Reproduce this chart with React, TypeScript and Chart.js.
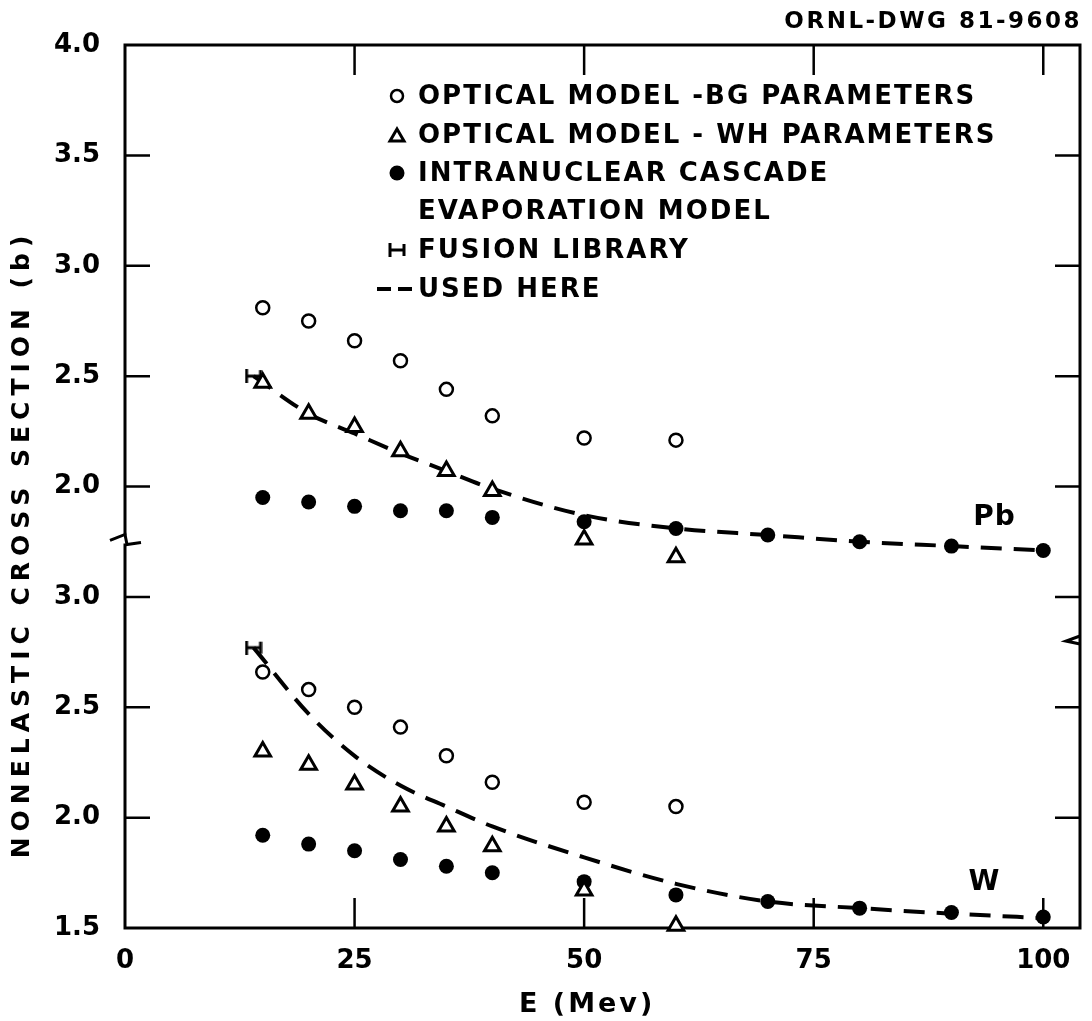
import React, { useEffect, useRef } from 'react';
import { Chart, registerables } from 'chart.js';

Chart.register(...registerables);

// ---------- data ----------
const X_TICKS = [0, 25, 50, 75, 100];
// internal y positions of ticks (W part: 1.5–3.0, Pb part shifted by PB_OFFSET)
const Y_TICKS = [1.5, 2.0, 2.5, 3.0, 3.5, 4.0, 4.5, 5.0, 5.5];
const PB_OFFSET = 1.5;
const W_TOP = 3.0;

const E_MODEL = [15, 20, 25, 30, 35, 40, 50, 60];
const E_CASCADE = [15, 20, 25, 30, 35, 40, 50, 60, 70, 80, 90, 100];
const E_FUSION = [14];
const E_USED = [14, 20, 25, 30, 35, 40, 50, 60, 70, 80, 90, 100];

const PB_BG = [2.81, 2.75, 2.66, 2.57, 2.44, 2.32, 2.22, 2.21];
const PB_WH = [2.47, 2.33, 2.27, 2.16, 2.07, 1.98, 1.76, 1.68];
const PB_CASCADE = [1.95, 1.93, 1.91, 1.89, 1.89, 1.86, 1.84, 1.81, 1.78, 1.75, 1.73, 1.71];
const PB_FUSION = [2.5];
const PB_USED = [2.5, 2.33, 2.24, 2.15, 2.07, 1.99, 1.87, 1.81, 1.78, 1.75, 1.73, 1.71];

const W_BG = [2.66, 2.58, 2.5, 2.41, 2.28, 2.16, 2.07, 2.05];
const W_WH = [2.3, 2.24, 2.15, 2.05, 1.96, 1.87, 1.67, 1.51];
const W_CASCADE = [1.92, 1.88, 1.85, 1.81, 1.78, 1.75, 1.71, 1.65, 1.62, 1.59, 1.57, 1.55];
const W_FUSION = [2.77];
const W_USED = [2.77, 2.47, 2.28, 2.145, 2.05, 1.96, 1.82, 1.7, 1.62, 1.59, 1.565, 1.545];

const LEGEND_LABELS = [
  'OPTICAL MODEL -BG PARAMETERS',
  'OPTICAL MODEL - WH PARAMETERS',
  'INTRANUCLEAR CASCADE',
  'EVAPORATION MODEL',
  'FUSION LIBRARY',
  'USED HERE',
];
const LEGEND_MARKERS = ['circle', 'triangle', 'dot', '', 'fusion', 'dash'];

const Y_TITLE = 'NONELASTIC CROSS SECTION (b)';
const X_TITLE = 'E (Mev)';
const DRAWING_ID = 'ORNL-DWG 81-9608';

const FAMILY = '"DejaVu Sans", sans-serif';

function pts(xs: number[], ys: number[], off = 0) {
  return xs.map((x, i) => ({ x, y: ys[i] + off }));
}

function makeFusionMarker(): HTMLCanvasElement {
  const c = document.createElement('canvas');
  c.width = 18;
  c.height = 14;
  const g = c.getContext('2d')!;
  g.strokeStyle = '#000';
  g.lineWidth = 3;
  g.beginPath();
  g.moveTo(2, 0);
  g.lineTo(2, 14);
  g.moveTo(2, 7);
  g.lineTo(16, 7);
  g.moveTo(16, 1);
  g.lineTo(16, 13);
  g.stroke();
  return c;
}

function setSpacing(ctx: any, px: number) {
  ctx.letterSpacing = px + 'px';
}

const decorPlugin = {
  id: 'decor',
  beforeDatasetsDraw(chart: any) {
    const { ctx, chartArea: a, scales } = chart;
    const xs = scales.x;
    const ys = scales.y;
    ctx.save();
    ctx.strokeStyle = '#000';
    ctx.lineWidth = 3;
    ctx.strokeRect(a.left, a.top, a.right - a.left, a.bottom - a.top);
    ctx.lineWidth = 2.5;
    ctx.beginPath();
    for (const v of X_TICKS) {
      if (v === 0) continue;
      const px = xs.getPixelForValue(v);
      ctx.moveTo(px, a.bottom);
      ctx.lineTo(px, a.bottom - 30);
      ctx.moveTo(px, a.top);
      ctx.lineTo(px, a.top + 30);
    }
    for (const v of Y_TICKS) {
      if (v === Y_TICKS[0] || v === Y_TICKS[Y_TICKS.length - 1]) continue;
      const py = ys.getPixelForValue(v);
      ctx.moveTo(a.left, py);
      ctx.lineTo(a.left + 25, py);
      ctx.moveTo(a.right, py);
      ctx.lineTo(a.right - 25, py);
    }
    ctx.stroke();
    // axis breaks
    ctx.lineWidth = 3;
    const bl = ys.getPixelForValue(3.26);
    ctx.fillStyle = '#fff';
    ctx.fillRect(a.left - 3, bl - 4, 6, 8);
    ctx.beginPath();
    ctx.moveTo(a.left - 15, bl + 1);
    ctx.lineTo(a.left, bl - 5);
    ctx.lineTo(a.left + 2, bl + 5);
    ctx.lineTo(a.left + 16, bl + 3);
    ctx.stroke();
    const br = ys.getPixelForValue(2.8);
    ctx.beginPath();
    ctx.moveTo(a.right, br - 5);
    ctx.lineTo(a.right - 14, br);
    ctx.lineTo(a.right, br + 3);
    ctx.stroke();
    ctx.restore();
  },
  afterDraw(chart: any) {
    const { ctx, chartArea: a, scales } = chart;
    const xs = scales.x;
    const ys = scales.y;
    const marker = (chart as any).$fusionMarker as HTMLCanvasElement;
    ctx.save();
    ctx.fillStyle = '#000';
    ctx.strokeStyle = '#000';

    // legend
    const mx = a.left + 272;
    const tx = a.left + 293;
    const rowY = [96, 135, 173, 211, 250, 289];
    ctx.font = `bold 26px ${FAMILY}`;
    ctx.textAlign = 'left';
    ctx.textBaseline = 'middle';
    setSpacing(ctx, 2);
    LEGEND_LABELS.forEach((lab, i) => {
      const y = rowY[i];
      ctx.fillText(lab, tx, y + 1);
      const m = LEGEND_MARKERS[i];
      ctx.lineWidth = 2.5;
      if (m === 'circle') {
        ctx.beginPath();
        ctx.arc(mx, y, 6, 0, Math.PI * 2);
        ctx.fillStyle = '#fff';
        ctx.fill();
        ctx.stroke();
        ctx.fillStyle = '#000';
      } else if (m === 'triangle') {
        ctx.lineWidth = 3;
        ctx.beginPath();
        ctx.moveTo(mx, y - 6);
        ctx.lineTo(mx + 7, y + 6);
        ctx.lineTo(mx - 7, y + 6);
        ctx.closePath();
        ctx.stroke();
      } else if (m === 'dot') {
        ctx.beginPath();
        ctx.arc(mx, y, 7.5, 0, Math.PI * 2);
        ctx.fill();
      } else if (m === 'fusion' && marker) {
        ctx.drawImage(marker, mx - marker.width / 2, y - marker.height / 2);
      } else if (m === 'dash') {
        ctx.lineWidth = 4;
        ctx.setLineDash([14, 7]);
        ctx.beginPath();
        ctx.moveTo(mx - 20, y);
        ctx.lineTo(mx + 15, y);
        ctx.stroke();
        ctx.setLineDash([]);
      }
    });

    // curve labels
    ctx.font = `bold 28px ${FAMILY}`;
    ctx.textAlign = 'center';
    setSpacing(ctx, 1);
    ctx.fillText('Pb', xs.getPixelForValue(94.7), ys.getPixelForValue(PB_OFFSET + 1.86));
    ctx.fillText('W', xs.getPixelForValue(93.6), ys.getPixelForValue(1.705));

    // drawing id
    ctx.font = `bold 23px ${FAMILY}`;
    ctx.textAlign = 'right';
    setSpacing(ctx, 2.5);
    ctx.fillText(DRAWING_ID, a.right + 2, 22);

    // x title
    ctx.font = `bold 27px ${FAMILY}`;
    ctx.textAlign = 'center';
    setSpacing(ctx, 3);
    ctx.fillText(X_TITLE, xs.getPixelForValue(50) + 3, 1005);

    // y title
    ctx.translate(22, 544);
    ctx.rotate(-Math.PI / 2);
    ctx.font = `bold 25px ${FAMILY}`;
    setSpacing(ctx, 6);
    ctx.fillText(Y_TITLE, 0, 0);
    setSpacing(ctx, 0);
    ctx.restore();
  },
};

export default function App() {
  const ref = useRef<HTMLCanvasElement>(null);
  useEffect(() => {
    const fusionMarker = makeFusionMarker();
    const common = {
      showLine: false,
      pointBorderColor: '#000',
      borderColor: '#000',
      clip: false as any,
      order: 0,
    };
    const bg = { ...common, pointStyle: 'circle', pointRadius: 6.5, pointHoverRadius: 6.5, pointBorderWidth: 2.5, pointBackgroundColor: '#fff' };
    const wh = { ...common, pointStyle: 'triangle', pointRadius: 9, pointHoverRadius: 9, pointBorderWidth: 3, pointBackgroundColor: '#fff' };
    const cas = { ...common, pointStyle: 'circle', pointRadius: 7.5, pointHoverRadius: 7.5, pointBorderWidth: 0, pointBackgroundColor: '#000' };
    const fus = { ...common, pointStyle: fusionMarker, pointRadius: 8 };
    const used = {
      showLine: true,
      borderColor: '#000',
      borderWidth: 4,
      borderDash: [21, 12],
      pointRadius: 0,
      pointHoverRadius: 0,
      cubicInterpolationMode: 'monotone',
      fill: false,
      clip: false as any,
      order: 10,
    };
    const tickFont = { family: FAMILY, size: 26, weight: 'bold' as const };
    const chart = new Chart(ref.current!, {
      type: 'scatter',
      data: {
        datasets: [
          { ...used, label: 'Pb used here', data: pts(E_USED, PB_USED, PB_OFFSET) },
          { ...used, label: 'W used here', data: pts(E_USED, W_USED) },
          { ...bg, label: 'Pb optical model BG', data: pts(E_MODEL, PB_BG, PB_OFFSET) },
          { ...wh, label: 'Pb optical model WH', data: pts(E_MODEL, PB_WH, PB_OFFSET) },
          { ...cas, label: 'Pb intranuclear cascade', data: pts(E_CASCADE, PB_CASCADE, PB_OFFSET) },
          { ...fus, label: 'Pb fusion library', data: pts(E_FUSION, PB_FUSION, PB_OFFSET) },
          { ...bg, label: 'W optical model BG', data: pts(E_MODEL, W_BG) },
          { ...wh, label: 'W optical model WH', data: pts(E_MODEL, W_WH) },
          { ...cas, label: 'W intranuclear cascade', data: pts(E_CASCADE, W_CASCADE) },
          { ...fus, label: 'W fusion library', data: pts(E_FUSION, W_FUSION) },
        ] as any,
      },
      options: {
        animation: false,
        responsive: true,
        maintainAspectRatio: false,
        events: [],
        layout: { padding: { top: 45, right: 9, left: 0, bottom: 0 } },
        plugins: { legend: { display: false }, tooltip: { enabled: false } },
        scales: {
          x: {
            type: 'linear',
            min: 0,
            max: 104,
            grid: { display: false, drawTicks: false },
            border: { display: false },
            ticks: { font: tickFont, color: '#000', padding: 18, callback: (v: any) => String(v) },
            afterBuildTicks: (s: any) => {
              s.ticks = X_TICKS.map((v) => ({ value: v }));
            },
            afterFit: (s: any) => {
              s.height = 93;
            },
          },
          y: {
            type: 'linear',
            min: 1.5,
            max: 5.5,
            grid: { display: false, drawTicks: false },
            border: { display: false },
            ticks: {
              font: tickFont,
              color: '#000',
              padding: 25,
              callback: (v: any) => {
                const n = Number(v);
                return (n > W_TOP + 1e-6 ? n - PB_OFFSET : n).toFixed(1);
              },
            },
            afterBuildTicks: (s: any) => {
              s.ticks = Y_TICKS.map((v) => ({ value: v }));
            },
            afterFit: (s: any) => {
              s.width = 125;
            },
          },
        },
      } as any,
      plugins: [decorPlugin],
    });
    (chart as any).$fusionMarker = fusionMarker;
    chart.draw();
    return () => chart.destroy();
  }, []);
  return (
    <div style={{ position: 'fixed', left: 0, top: 0, width: 1092, height: 1021, background: '#fff' }}>
      <canvas ref={ref} />
    </div>
  );
}
